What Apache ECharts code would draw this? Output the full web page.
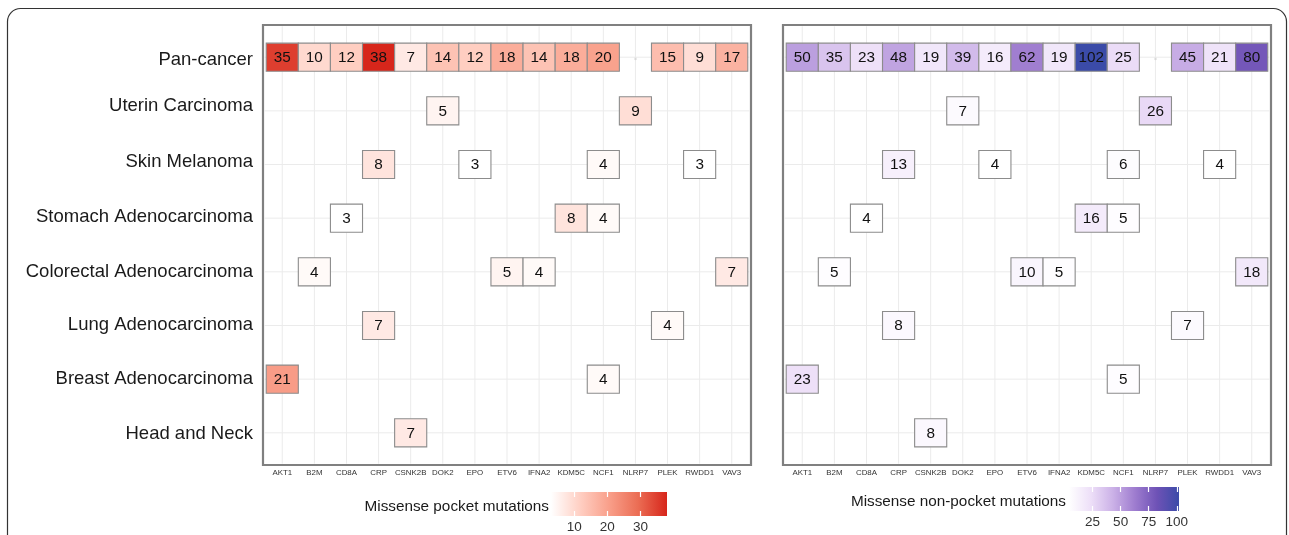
<!DOCTYPE html>
<html><head><meta charset="utf-8">
<script src="https://cdn.jsdelivr.net/npm/echarts@6/dist/echarts.min.js"></script>
<style>html,body{margin:0;padding:0;background:#fff}#c{width:1289px;height:535px}</style>
</head><body><div id="c"></div><script>
const genes = ['AKT1','B2M','CD8A','CRP','CSNK2B','DOK2','EPO','ETV6','IFNA2','KDM5C','NCF1','NLRP7','PLEK','RWDD1','VAV3'];
const cancers = ['Pan-cancer','Uterin Carcinoma','Skin Melanoma','Stomach Adenocarcinoma','Colorectal Adenocarcinoma','Lung Adenocarcinoma','Breast Adenocarcinoma','Head and Neck'];
// small upward nudges of the row labels as seen in the reference (px)
const labelNudge = [0, 7, 5, 4, 2, 3, 3, 1];

// [gene, cancer, count]
const pocketMutations = [
  ['AKT1','Pan-cancer',35],['B2M','Pan-cancer',10],['CD8A','Pan-cancer',12],['CRP','Pan-cancer',38],
  ['CSNK2B','Pan-cancer',7],['DOK2','Pan-cancer',14],['EPO','Pan-cancer',12],['ETV6','Pan-cancer',18],
  ['IFNA2','Pan-cancer',14],['KDM5C','Pan-cancer',18],['NCF1','Pan-cancer',20],['PLEK','Pan-cancer',15],
  ['RWDD1','Pan-cancer',9],['VAV3','Pan-cancer',17],
  ['DOK2','Uterin Carcinoma',5],['NLRP7','Uterin Carcinoma',9],
  ['CRP','Skin Melanoma',8],['EPO','Skin Melanoma',3],['NCF1','Skin Melanoma',4],['RWDD1','Skin Melanoma',3],
  ['CD8A','Stomach Adenocarcinoma',3],['KDM5C','Stomach Adenocarcinoma',8],['NCF1','Stomach Adenocarcinoma',4],
  ['B2M','Colorectal Adenocarcinoma',4],['ETV6','Colorectal Adenocarcinoma',5],['IFNA2','Colorectal Adenocarcinoma',4],['VAV3','Colorectal Adenocarcinoma',7],
  ['CRP','Lung Adenocarcinoma',7],['PLEK','Lung Adenocarcinoma',4],
  ['AKT1','Breast Adenocarcinoma',21],['NCF1','Breast Adenocarcinoma',4],
  ['CSNK2B','Head and Neck',7]
];
const nonPocketMutations = [
  ['AKT1','Pan-cancer',50],['B2M','Pan-cancer',35],['CD8A','Pan-cancer',23],['CRP','Pan-cancer',48],
  ['CSNK2B','Pan-cancer',19],['DOK2','Pan-cancer',39],['EPO','Pan-cancer',16],['ETV6','Pan-cancer',62],
  ['IFNA2','Pan-cancer',19],['KDM5C','Pan-cancer',102],['NCF1','Pan-cancer',25],['PLEK','Pan-cancer',45],
  ['RWDD1','Pan-cancer',21],['VAV3','Pan-cancer',80],
  ['DOK2','Uterin Carcinoma',7],['NLRP7','Uterin Carcinoma',26],
  ['CRP','Skin Melanoma',13],['EPO','Skin Melanoma',4],['NCF1','Skin Melanoma',6],['RWDD1','Skin Melanoma',4],
  ['CD8A','Stomach Adenocarcinoma',4],['KDM5C','Stomach Adenocarcinoma',16],['NCF1','Stomach Adenocarcinoma',5],
  ['B2M','Colorectal Adenocarcinoma',5],['ETV6','Colorectal Adenocarcinoma',10],['IFNA2','Colorectal Adenocarcinoma',5],['VAV3','Colorectal Adenocarcinoma',18],
  ['CRP','Lung Adenocarcinoma',8],['PLEK','Lung Adenocarcinoma',7],
  ['AKT1','Breast Adenocarcinoma',23],['NCF1','Breast Adenocarcinoma',5],
  ['CSNK2B','Head and Neck',8]
];
const pocketRange = [3, 38];
const nonPocketRange = [4, 102];
const pocketColors = ['#FFFFFF','#FFCFC3','#F99F8A','#EB6D54','#D7261B'];
const nonPocketColors = ['#FFFFFF','#EDDFF8','#CBB1E7','#9E7CCF','#6E52B6','#3B4BA8'];
const pocketTicks = [10, 20, 30];
const nonPocketTicks = [25, 50, 75, 100];
const geneIdx = genes.map((g,i)=>i);
const cancerIdx = cancers.map((c,i)=>i);
const X_EXT = [-0.6, genes.length - 1 + 0.6];
const Y_EXT = [-0.6, cancers.length - 1 + 0.6];

const FONT = '"Liberation Sans", Arial, Helvetica, sans-serif';
const toData = arr => arr.map(d => [genes.indexOf(d[0]), cancers.indexOf(d[1]), d[2]]);
const gridLineData = geneIdx.map(i => [0, i]).concat(cancerIdx.map(i => [1, i]));

function renderTile(params, api) {
  const x = api.value(0), y = api.value(1), v = api.value(2);
  const p1 = api.coord([x - 0.5, y - 0.262]);
  const p2 = api.coord([x + 0.5, y + 0.262]);
  const rx = Math.min(p1[0], p2[0]), ry = Math.min(p1[1], p2[1]);
  const w = Math.abs(p2[0] - p1[0]), h = Math.abs(p2[1] - p1[1]);
  return {type:'group', children:[
    {type:'rect', shape:{x:rx, y:ry, width:w, height:h},
     style:{fill: api.visual('color'), stroke:'#8c8c8c', lineWidth:1.1}},
    {type:'text', x: rx + w/2, y: ry + h/2 + 0.5,
     style:{text:String(v), fill:'#111', fontSize:15.3, fontFamily:FONT, align:'center', verticalAlign:'middle'}}
  ]};
}
function renderGridLine(params, api) {
  const kind = api.value(0), v = api.value(1), inset = 1.3;
  let a, b;
  if (kind === 0) {
    a = api.coord([v, Y_EXT[0]]); b = api.coord([v, Y_EXT[1]]);
    const lo = Math.min(a[1], b[1]) + inset, hi = Math.max(a[1], b[1]) - inset;
    a = [a[0], lo]; b = [b[0], hi];
  } else {
    a = api.coord([X_EXT[0], v]); b = api.coord([X_EXT[1], v]);
    a = [a[0] + inset, a[1]]; b = [b[0] - inset, b[1]];
  }
  return {type:'line', shape:{x1:a[0], y1:a[1], x2:b[0], y2:b[1]},
    style:{stroke:'#ebebeb', lineWidth:1}, silent:true};
}
function makeLegendRender(colors) {
  return function(params, api) {
    const p1 = api.coord([api.value(0), 1]);
    const p2 = api.coord([api.value(1), 0]);
    const stops = colors.map((c,i)=>({offset:i/(colors.length-1), color:c}));
    return {type:'rect', shape:{x:p1[0], y:p1[1], width:p2[0]-p1[0], height:p2[1]-p1[1]},
      style:{fill: new echarts.graphic.LinearGradient(0,0,1,0,stops)}};
  };
}

const panels = [
  {left:263, data: toData(pocketMutations), showY:true},
  {left:783, data: toData(nonPocketMutations), showY:false}
];
const rich = {};
labelNudge.forEach((n,i)=>{ rich['r'+i] = {fontSize:18.5, fontFamily:FONT, color:'#1a1a1a', padding:[5,0,2*n,0]}; });

const grid = [], xAxis = [], yAxis = [], series = [];
panels.forEach((p, k) => {
  grid.push({left:p.left, top:25, width:488, height:440, show:true, borderColor:'#808080', borderWidth:2.2, backgroundColor:'transparent'});
  xAxis.push({gridIndex:k, type:'value', min:X_EXT[0], max:X_EXT[1],
    axisLine:{show:false},
    axisTick:{show:true, customValues:geneIdx, length:3, lineStyle:{color:'#333', width:1.2}},
    axisLabel:{customValues:geneIdx, formatter:v=>genes[Math.round(v)]||'', fontSize:7.9, fontFamily:FONT, color:'#333', margin:4},
    splitLine:{show:false}});
  yAxis.push({gridIndex:k, type:'value', min:Y_EXT[0], max:Y_EXT[1], inverse:true,
    axisLine:{show:false},
    axisTick:{show:false},
    axisLabel:{show:p.showY, customValues:cancerIdx, margin:10,
      formatter:v=>{const i=Math.round(v); return '{r'+i+'|'+(cancers[i]||'')+'}';}, rich:rich},
    splitLine:{show:false}});
  series.push({type:'custom', xAxisIndex:k, yAxisIndex:k, renderItem:renderTile, data:p.data,
    encode:{x:0, y:1}, z:3});
  series.push({type:'custom', xAxisIndex:k, yAxisIndex:k, renderItem:renderGridLine, data:gridLineData,
    encode:{x:1}, z:1, silent:true, clip:true});
});

// legend colour bars
const legends = [
  {left:551, top:492, width:116, height:24, range:pocketRange, colors:pocketColors, ticks:pocketTicks},
  {left:1069, top:487, width:110, height:24, range:nonPocketRange, colors:nonPocketColors, ticks:nonPocketTicks}
];
legends.forEach((L, j) => {
  const gi = grid.length;
  grid.push({left:L.left, top:L.top, width:L.width, height:L.height, show:false});
  xAxis.push({gridIndex:gi, type:'value', min:L.range[0], max:L.range[1], z:10,
    axisLine:{show:false}, splitLine:{show:false},
    axisTick:{show:true, inside:true, customValues:L.ticks, length:5, lineStyle:{color:'#fff', width:1.2}},
    axisLabel:{customValues:L.ticks, fontSize:13.5, fontFamily:FONT, color:'#333', margin:4}});
  xAxis.push({gridIndex:gi, type:'value', position:'top', min:L.range[0], max:L.range[1], z:10,
    axisLine:{show:false}, splitLine:{show:false},
    axisTick:{show:true, inside:true, customValues:L.ticks, length:5, lineStyle:{color:'#fff', width:1.2}},
    axisLabel:{show:false}});
  yAxis.push({gridIndex:gi, type:'value', min:0, max:1, show:false});
  series.push({type:'custom', xAxisIndex:xAxis.length-2, yAxisIndex:yAxis.length-1,
    renderItem:makeLegendRender(L.colors), data:[[L.range[0], L.range[1]]], z:1, silent:true});
});

const chart = echarts.init(document.getElementById('c'), null, {renderer:'canvas'});
chart.setOption({
  animation:false,
  backgroundColor:'#fff',
  grid, xAxis, yAxis, series,
  visualMap:[
    {type:'continuous', show:false, seriesIndex:0, dimension:2, min:pocketRange[0], max:pocketRange[1], inRange:{color:pocketColors}},
    {type:'continuous', show:false, seriesIndex:2, dimension:2, min:nonPocketRange[0], max:nonPocketRange[1], inRange:{color:nonPocketColors}}
  ],
  graphic:[
    {type:'rect', shape:{x:7.5, y:8.5, width:1279, height:620, r:13}, style:{fill:'none', stroke:'#333', lineWidth:1.2}, z:-1, silent:true},
    {type:'text', right:1289-549, top:499, style:{text:'Missense pocket mutations', fontSize:15.3, fontFamily:FONT, fill:'#1a1a1a'}},
    {type:'text', right:1289-1066, top:494, style:{text:'Missense non-pocket mutations', fontSize:15.3, fontFamily:FONT, fill:'#1a1a1a'}}
  ]
});
</script></body></html>
